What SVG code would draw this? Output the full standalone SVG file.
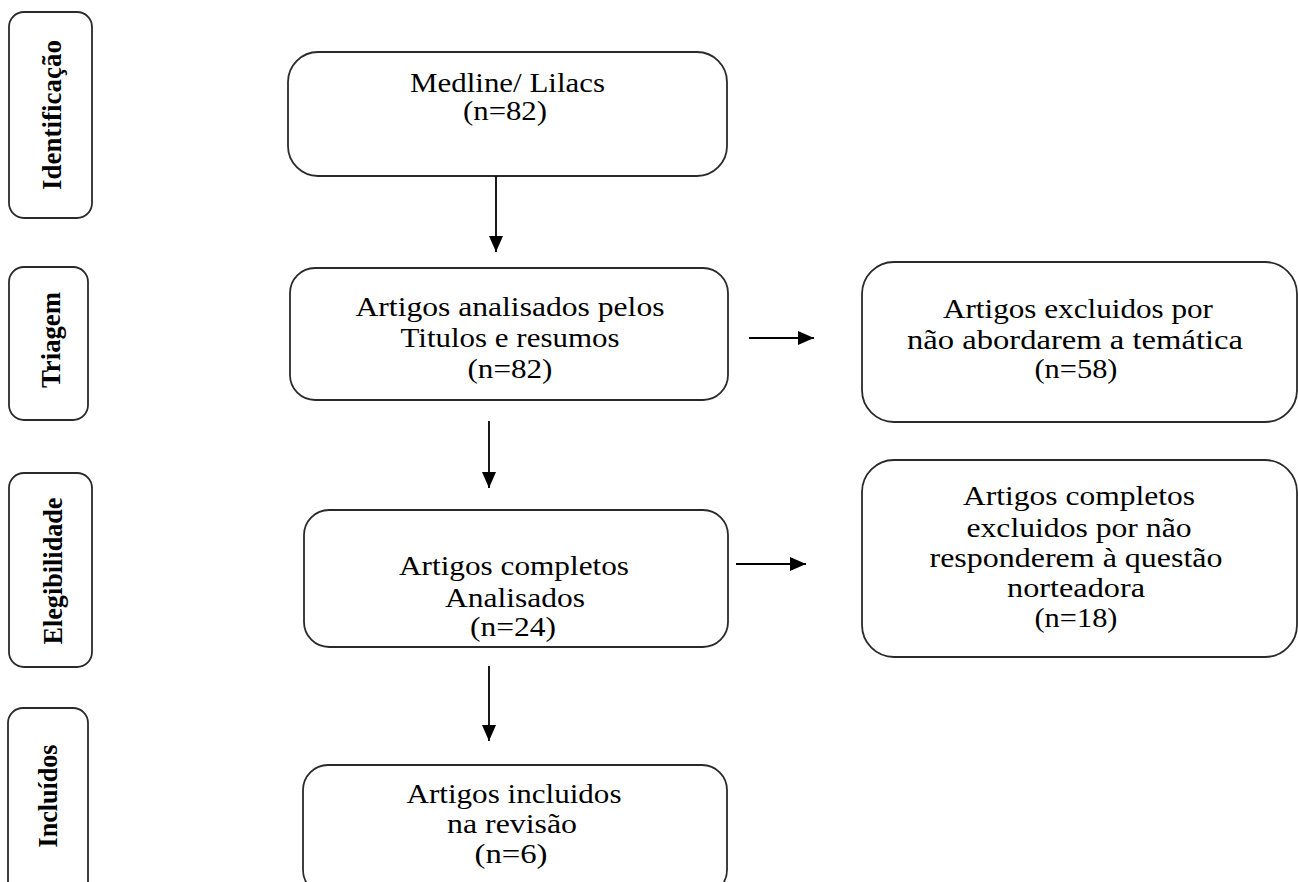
<svg xmlns="http://www.w3.org/2000/svg" width="1298" height="882" viewBox="0 0 1298 882">
<defs>
<style>
.box{fill:#fff;stroke:#2a2a2a;stroke-width:1.8}
.t{font-family:"Liberation Serif","Times New Roman",serif;font-size:27px;fill:#000;text-anchor:middle}
.s{font-family:"Liberation Serif","Times New Roman",serif;font-size:28px;font-weight:bold;fill:#000;text-anchor:middle}
.c{stroke:#000;stroke-width:1.8;fill:none}
</style>
<marker id="ah" markerUnits="userSpaceOnUse" markerWidth="16" markerHeight="14" refX="16" refY="7" orient="auto">
<path d="M0,0 L16,7 L0,14 z" fill="#000"/>
</marker>
</defs>
<rect width="1298" height="882" fill="#fff"/>

<g id="stage-identificacao">
<rect class="box" x="9" y="12" width="83" height="206" rx="15"/>
<text class="s" transform="translate(61,115) rotate(-90)" textLength="150" lengthAdjust="spacingAndGlyphs">Identificação</text>
</g>
<g id="stage-triagem">
<rect class="box" x="9" y="267" width="79" height="153" rx="15"/>
<text class="s" transform="translate(60,340) rotate(-90)" textLength="96" lengthAdjust="spacingAndGlyphs">Triagem</text>
</g>
<g id="stage-elegibilidade">
<rect class="box" x="9" y="473" width="83" height="194" rx="15"/>
<text class="s" transform="translate(62,571) rotate(-90)" textLength="147" lengthAdjust="spacingAndGlyphs">Elegibilidade</text>
</g>
<g id="stage-incluidos">
<rect class="box" x="8" y="708" width="80" height="190" rx="15"/>
<text class="s" transform="translate(57,796) rotate(-90)" textLength="103" lengthAdjust="spacingAndGlyphs">Incluídos</text>
</g>

<g id="node-medline">
<rect class="box" x="288" y="52" width="439" height="124" rx="30"/>
<text class="t" x="507.5" y="92" textLength="195" lengthAdjust="spacingAndGlyphs">Medline/ Lilacs</text>
<text class="t" x="505" y="120" textLength="84" lengthAdjust="spacingAndGlyphs">(n=82)</text>
</g>
<g id="node-triagem">
<rect class="box" x="290" y="268" width="438" height="132" rx="25"/>
<text class="t" x="510" y="316" textLength="309" lengthAdjust="spacingAndGlyphs">Artigos analisados pelos</text>
<text class="t" x="510" y="347" textLength="219" lengthAdjust="spacingAndGlyphs">Titulos e resumos</text>
<text class="t" x="510" y="378" textLength="85" lengthAdjust="spacingAndGlyphs">(n=82)</text>
</g>
<g id="node-excluidos-tematica">
<rect class="box" x="862" y="262" width="435" height="160" rx="32"/>
<text class="t" x="1078" y="318" textLength="270" lengthAdjust="spacingAndGlyphs">Artigos excluidos por</text>
<text class="t" x="1075" y="349" textLength="336" lengthAdjust="spacingAndGlyphs">não abordarem a temática</text>
<text class="t" x="1076" y="378" textLength="83" lengthAdjust="spacingAndGlyphs">(n=58)</text>
</g>
<g id="node-completos">
<rect class="box" x="304" y="510" width="424" height="137" rx="25"/>
<text class="t" x="514" y="575" textLength="230" lengthAdjust="spacingAndGlyphs">Artigos completos</text>
<text class="t" x="515" y="607" textLength="140" lengthAdjust="spacingAndGlyphs">Analisados</text>
<text class="t" x="513" y="636" textLength="86" lengthAdjust="spacingAndGlyphs">(n=24)</text>
</g>
<g id="node-excluidos-questao">
<rect class="box" x="862" y="460" width="435" height="197" rx="32"/>
<text class="t" x="1079" y="505" textLength="232" lengthAdjust="spacingAndGlyphs">Artigos completos</text>
<text class="t" x="1079" y="537" textLength="225" lengthAdjust="spacingAndGlyphs">excluidos por não</text>
<text class="t" x="1076" y="567" textLength="293" lengthAdjust="spacingAndGlyphs">responderem à questão</text>
<text class="t" x="1076" y="597" textLength="138" lengthAdjust="spacingAndGlyphs">norteadora</text>
<text class="t" x="1076" y="627" textLength="83" lengthAdjust="spacingAndGlyphs">(n=18)</text>
</g>
<g id="node-incluidos">
<rect class="box" x="303" y="765" width="424" height="130" rx="25"/>
<text class="t" x="514" y="803" textLength="215" lengthAdjust="spacingAndGlyphs">Artigos incluidos</text>
<text class="t" x="512" y="833" textLength="130" lengthAdjust="spacingAndGlyphs">na revisão</text>
<text class="t" x="511" y="863" textLength="73" lengthAdjust="spacingAndGlyphs">(n=6)</text>
</g>

<g id="connectors">
<line class="c" x1="496" y1="176" x2="496" y2="252" marker-end="url(#ah)"/>
<line class="c" x1="489" y1="421" x2="489" y2="488" marker-end="url(#ah)"/>
<line class="c" x1="489" y1="666" x2="489" y2="741" marker-end="url(#ah)"/>
<line class="c" x1="749" y1="338" x2="814" y2="338" marker-end="url(#ah)"/>
<line class="c" x1="736" y1="564" x2="806" y2="564" marker-end="url(#ah)"/>
</g>
</svg>
